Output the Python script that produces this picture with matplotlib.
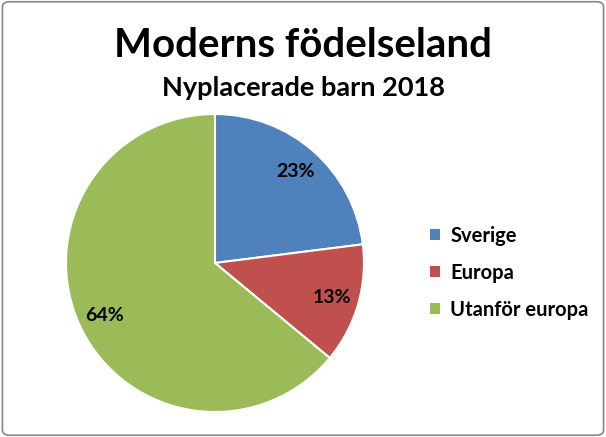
import matplotlib
matplotlib.use('Agg')
import matplotlib.pyplot as plt
from matplotlib.patches import FancyBboxPatch, Patch

plt.rcParams['font.family'] = ['Lato', 'DejaVu Sans']

labels = ['Sverige', 'Europa', 'Utanför europa']
shares = [23, 13, 64]
colors = ['#4F81BD', '#C0504D', '#9BBB59']

fig = plt.figure(figsize=(6.06, 4.37), dpi=100)

# rounded grey border around the whole chart
fig.patches.append(FancyBboxPatch((0.004, 0.004), 0.992, 0.992,
                                  boxstyle='round,pad=0,rounding_size=0.012',
                                  transform=fig.transFigure, fill=False,
                                  edgecolor='#868686', linewidth=1.2))

fig.text(0.5, 0.897, 'Moderns födelseland', ha='center', va='center',
         fontsize=29, fontweight='bold')
fig.text(0.5, 0.798, 'Nyplacerade barn 2018', ha='center', va='center',
         fontsize=19.5, fontweight='bold')

ax = fig.add_axes([0.1089, 0.0572, 0.4917, 0.682])
wedges, _, autotexts = ax.pie(shares, colors=colors, startangle=90, counterclock=False,
                              autopct='%d%%', pctdistance=0.82,
                              wedgeprops=dict(edgecolor='white', linewidth=1.5),
                              textprops=dict(fontsize=14, fontweight='bold'))
ax.set_xlim(-1, 1)
ax.set_ylim(-1, 1)
ax.set_aspect('equal')

handles = [Patch(facecolor=c, edgecolor='none', label=l) for c, l in zip(colors, labels)]
fig.legend(handles=handles, loc='center left', bbox_to_anchor=(0.68, 0.376),
           frameon=False, handlelength=0.5, handleheight=0.5,
           handletextpad=0.5, labelspacing=0.85, prop=dict(weight='bold', size=14.5))

fig.savefig('out.png', dpi=100)
